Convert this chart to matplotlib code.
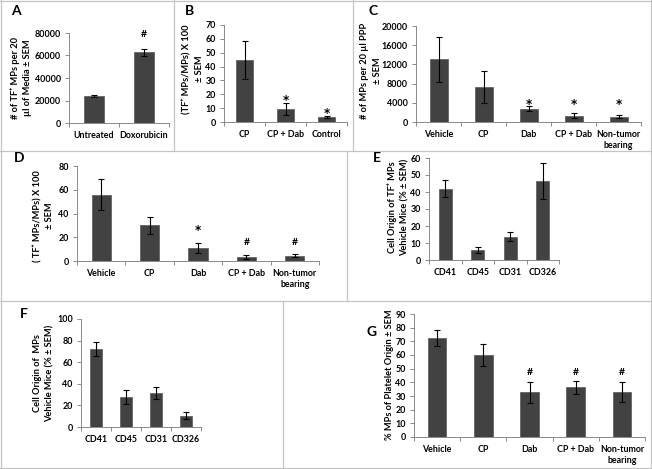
import matplotlib
matplotlib.use("Agg")
import matplotlib.pyplot as plt
from matplotlib.lines import Line2D

plt.rcParams['font.family'] = ['Lato', 'DejaVu Sans']
plt.rcParams['font.weight'] = 'bold'

# --- data ---
a_cats = ['Untreated', 'Doxorubicin']
a_vals = [24300, 62700]
a_err = [800, 3100]
a_sig = ['', '#']

b_cats = ['CP', 'CP + Dab', 'Control']
b_vals = [44.7, 9.6, 3.6]
b_err = [14.0, 4.4, 1.0]
b_sig = ['', '*', '*']

treat_cats = ['Vehicle', 'CP', 'Dab', 'CP + Dab', 'Non-tumor\nbearing']

c_vals = [13100, 7300, 2750, 1300, 1100]
c_err = [4700, 3250, 550, 550, 300]
c_sig = ['', '', '*', '*', '*']

d_vals = [56.0, 30.0, 11.2, 3.4, 4.5]
d_err = [13.0, 7.0, 4.2, 1.5, 1.4]
d_sig = ['', '', '*', '#', '#']

cd_cats = ['CD41', 'CD45', 'CD31', 'CD326']
e_vals = [41.9, 5.8, 13.8, 46.6]
e_err = [5.0, 1.8, 2.5, 10.6]

f_vals = [72.3, 27.8, 31.5, 10.4]
f_err = [6.2, 6.8, 5.5, 3.2]

g_vals = [72.6, 59.7, 32.8, 36.3, 32.6]
g_err = [6.0, 8.0, 7.8, 5.0, 7.3]
g_sig = ['', '', '#', '#', '#']

W, H = 652, 469
fig = plt.figure(figsize=(W / 100, H / 100), dpi=100)

BAR = '#424242'
AXC = '#8a8a8a'
BORDER = '#c4c4c4'


def px_axes(x0, x1, ytop, ybot):
    return fig.add_axes([x0 / W, 1 - ybot / H, (x1 - x0) / W, (ybot - ytop) / H])


def bar_panel(box, cats, vals, errs, ymax, step, sig=None, sig_off=3, common=False):
    ax = px_axes(*box)
    n = len(cats)
    xs = [i + 0.5 for i in range(n)]
    ax.bar(xs, vals, width=0.4, color=BAR, edgecolor='#585858', linewidth=0.5, zorder=2)
    ax.errorbar(xs, vals, yerr=errs, fmt='none', ecolor='black',
                elinewidth=0.8, capsize=2.2, capthick=0.8, zorder=3)
    ax.set_xlim(0, n)
    ax.set_ylim(0, ymax)
    ax.set_yticks([step * k for k in range(int(round(ymax / step)) + 1)])
    ax.set_xticks(range(n + 1))
    ax.set_xticklabels([])
    ax.set_xticks(xs, minor=True)
    ax.set_xticklabels(cats, minor=True)
    ax.tick_params(axis='x', which='major', length=3, color=AXC, width=0.7, direction='out')
    ax.tick_params(axis='x', which='minor', length=0, pad=6, labelsize=6.4)
    ax.tick_params(axis='y', length=3, color=AXC, width=0.7, labelsize=6.4, pad=3)
    for s in ['top', 'right']:
        ax.spines[s].set_visible(False)
    for s in ['left', 'bottom']:
        ax.spines[s].set_color(AXC)
        ax.spines[s].set_linewidth(0.7)
    ax.patch.set_alpha(0)
    if sig:
        tops = [v + e for v, e in zip(vals, errs)]
        level = {}
        for t, s in zip(tops, sig):
            if s:
                level[s] = max(level.get(s, 0), t)
        for x, t, s in zip(xs, tops, sig):
            if not s:
                continue
            y = level[s] if common else t
            if s == '*':
                kw = dict(fontsize=8.5, family='DejaVu Sans')
            else:
                kw = dict(fontsize=7.5)
            ax.annotate(s, (x, y), xytext=(0, sig_off), textcoords='offset points',
                        ha='center', va='baseline', fontweight='bold',
                        annotation_clip=False, **kw)
    return ax


bar_panel((69, 169, 33, 123), a_cats, a_vals, a_err, 80000, 20000, a_sig, sig_off=8.5)
bar_panel((224, 347, 25, 122), b_cats, b_vals, b_err, 70, 10, b_sig, sig_off=-1)
bar_panel((416, 641, 26, 122), treat_cats, c_vals, c_err, 20000, 4000, c_sig, sig_off=-1.5, common=True)
bar_panel((77, 319, 166, 261), treat_cats, d_vals, d_err, 80, 20, d_sig, sig_off=6.5, common=True)
bar_panel((429, 559, 158, 260), cd_cats, e_vals, e_err, 60, 10)
bar_panel((81, 201, 319, 427), cd_cats, f_vals, f_err, 100, 20)
bar_panel((414, 645, 314, 437), treat_cats, g_vals, g_err, 90, 10, g_sig, sig_off=4, common=True)


def ylab(x, y, s):
    fig.text(x / W, 1 - y / H, s, rotation=90, ha='center', va='center',
             fontsize=6.7, fontweight='bold', linespacing=1.45, multialignment='center')


ylab(21.5, 78, '# of TF\u207a MPs per 20\n\u00b5l of Media \u00b1 SEM')
ylab(193, 69, '(TF\u207a MPs/MPs) X 100\n\u00b1 SEM')
ylab(371, 71, '# of MPs per 20 \u00b5l PPP\n\u00b1 SEM')
ylab(43.5, 216, '( TF\u207a MPs/MPs) X 100\n\u00b1 SEM')
ylab(398.5, 207, 'Cell Origin of TF\u207a MPs\nVehicle Mice (% \u00b1 SEM)')
ylab(44, 373, 'Cell Origin of  MPs\nVehicle Mice (% \u00b1 SEM)')
ylab(390, 375, '% MPs of Platelet Origin \u00b1 SEM')

for letter, (x, y) in {'A': (16, 11), 'B': (189, 11), 'C': (373, 11), 'D': (19, 158),
                       'E': (377, 158), 'F': (24, 314), 'G': (372, 332)}.items():
    fig.text(x / W, 1 - y / H, letter, ha='center', va='center', fontsize=10, fontweight='bold')

# panel borders
def hline(y, x0, x1):
    fig.add_artist(Line2D([x0 / W, x1 / W], [1 - y / H, 1 - y / H], transform=fig.transFigure,
                          color=BORDER, lw=0.9))


def vline(x, y0, y1):
    fig.add_artist(Line2D([x / W, x / W], [1 - y0 / H, 1 - y1 / H], transform=fig.transFigure,
                          color=BORDER, lw=0.9))


hline(1, 0, W)
hline(468, 0, W)
vline(1, 0, H)
vline(651, 0, H)
hline(151, 0, W)
hline(301, 0, W)
vline(174, 0, 151)
vline(353, 0, 151)
vline(347, 151, 301)
vline(283, 301, H)

fig.savefig('out.png', dpi=100)
